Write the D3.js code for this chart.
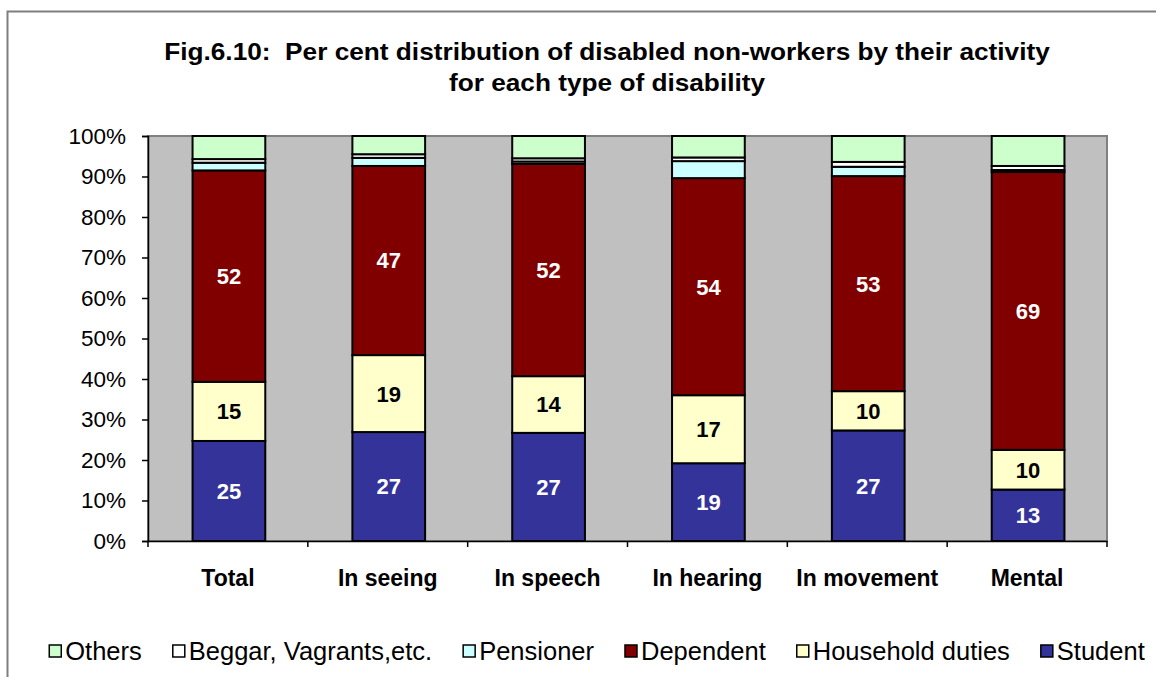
<!DOCTYPE html>
<html>
<head>
<meta charset="utf-8">
<script src="https://cdn.jsdelivr.net/npm/d3@7"></script>
<style>
  html, body { margin: 0; padding: 0; background: #fff; }
  svg { display: block; font-family: "Liberation Sans", Arial, sans-serif; }
  .pre { white-space: pre; }
</style>
</head>
<body>
<svg id="chart" width="1156" height="677"></svg>
<script>
const categories = ["Total", "In seeing", "In speech", "In hearing", "In movement", "Mental"];
const student    = [24.7, 26.9, 26.7, 19.2, 27.3, 12.7];
const household  = [14.6, 19.0, 14.0, 16.8, 9.7, 9.8];
const dependent  = [52.2, 46.7, 52.4, 53.6, 53.1, 68.6];
const pensioner  = [1.9, 2.0, 0.6, 4.2, 2.3, 0.5];
const beggar     = [0.9, 0.9, 0.8, 0.9, 1.2, 1.0];
const others     = [5.7, 4.5, 5.5, 5.3, 6.4, 7.4];
const seriesNames = ["Student", "Household duties", "Dependent", "Pensioner", "Beggar, Vagrants,etc.", "Others"];
const legendOrder = ["Others", "Beggar, Vagrants,etc.", "Pensioner", "Dependent", "Household duties", "Student"];
const yTicks = [0, 10, 20, 30, 40, 50, 60, 70, 80, 90, 100];
const titleLines = ["Fig.6.10:  Per cent distribution of disabled non-workers by their activity",
                    "for each type of disability"];

const colors = {
  "Student": "#333399",
  "Household duties": "#FFFFCC",
  "Dependent": "#800000",
  "Pensioner": "#CCFFFF",
  "Beggar, Vagrants,etc.": "#FFFFFF",
  "Others": "#CCFFCC"
};
const labelColors = { "Student": "#fff", "Household duties": "#000", "Dependent": "#fff" };

const seriesArrays = [student, household, dependent, pensioner, beggar, others];
const rows = categories.map((c, i) => {
  const r = { cat: c };
  seriesNames.forEach((s, k) => r[s] = seriesArrays[k][i]);
  return r;
});

const svg = d3.select("#chart");
const L = 148, R = 1107, T = 136, B = 541;

// outer frame
svg.append("rect").attr("x", 7.5).attr("y", 11.5).attr("width", 1170).attr("height", 690)
  .attr("fill", "none").attr("stroke", "#7f7f7f").attr("stroke-width", 2);

// title
svg.append("g").attr("transform", "translate(607,0) scale(1.14,1)")
  .selectAll("text").data(titleLines).join("text")
  .attr("class", "pre")
  .attr("x", 0).attr("y", (d, i) => 60 + i * 31)
  .attr("text-anchor", "middle").attr("font-weight", "bold").attr("font-size", 23)
  .attr("fill", "#000").text(d => d);

const x = d3.scaleBand().domain(categories).range([L, R]).padding(0);
const y = d3.scaleLinear().domain([0, 100]).range([B, T]);

// plot area
svg.append("rect").attr("x", L).attr("y", T).attr("width", R - L).attr("height", B - T)
  .attr("fill", "#C0C0C0").attr("stroke", "#808080").attr("stroke-width", 2);

const stack = d3.stack().keys(seriesNames);
const stacked = stack(rows);
const barW = x.bandwidth() * 0.455;

const gBars = svg.append("g");
stacked.forEach(layer => {
  gBars.append("g").selectAll("rect").data(layer).join("rect")
    .attr("x", d => x(d.data.cat) + (x.bandwidth() - barW) / 2 + 1)
    .attr("y", d => y(d[1]))
    .attr("width", barW)
    .attr("height", d => y(d[0]) - y(d[1]))
    .attr("fill", colors[layer.key])
    .attr("stroke", "#000").attr("stroke-width", 2);
});

// data labels
stacked.filter(l => labelColors[l.key]).forEach(layer => {
  gBars.append("g").selectAll("text").data(layer).join("text")
    .attr("x", d => x(d.data.cat) + x.bandwidth() / 2 + 1)
    .attr("y", d => (y(d[0]) + y(d[1])) / 2)
    .attr("dy", "0.36em")
    .attr("text-anchor", "middle").attr("font-weight", "bold").attr("font-size", 22)
    .attr("fill", labelColors[layer.key])
    .text(d => Math.round(d[1] - d[0]));
});

// y axis
const yAxis = d3.axisLeft(y).tickValues(yTicks).tickFormat(d => d + "%").tickSize(6).tickPadding(16);
const gy = svg.append("g").attr("transform", `translate(${L},0)`).call(yAxis);
gy.select(".domain").attr("stroke", "#000").attr("stroke-width", 1.5);
gy.selectAll(".tick line").attr("stroke", "#000").attr("stroke-width", 1.5);
gy.selectAll(".tick text").attr("font-size", 22.5).attr("fill", "#000")
  .attr("font-family", '"Liberation Sans", Arial, sans-serif');

// x axis
const xAxis = d3.axisBottom(x).tickSize(0).tickPadding(0).tickFormat(d => d);
const gx = svg.append("g").attr("transform", `translate(0,${B})`).call(xAxis);
gx.select(".domain").attr("stroke", "#000").attr("stroke-width", 1.5);
gx.selectAll(".tick text").attr("font-size", 23).attr("font-weight", "bold").attr("fill", "#000")
  .attr("font-family", '"Liberation Sans", Arial, sans-serif')
  .attr("dy", null).attr("y", 45);
// boundary ticks between categories
const bounds = categories.map(c => x(c)).concat([R]);
gx.append("g").selectAll("line").data(bounds).join("line")
  .attr("x1", d => d).attr("x2", d => d).attr("y1", 0).attr("y2", 6)
  .attr("stroke", "#000").attr("stroke-width", 1.5);

// legend
const lg = svg.append("g");
const fs = 25.5;
let cx = 0;
legendOrder.forEach(name => {
  const g = lg.append("g").attr("transform", `translate(${cx},0)`);
  g.append("rect").attr("x", 0).attr("y", -6).attr("width", 12).attr("height", 12)
    .attr("fill", colors[name]).attr("stroke", "#000").attr("stroke-width", 1.5);
  const t = g.append("text").attr("x", 16).attr("y", 0).attr("dy", "0.35em")
    .attr("font-size", fs).attr("fill", "#000").text(name);
  const w = t.node().getComputedTextLength();
  cx += 16 + w + 31;
});
const totalW = cx - 31;
lg.attr("transform", `translate(${597 - totalW / 2},651)`);
</script>
</body>
</html>
